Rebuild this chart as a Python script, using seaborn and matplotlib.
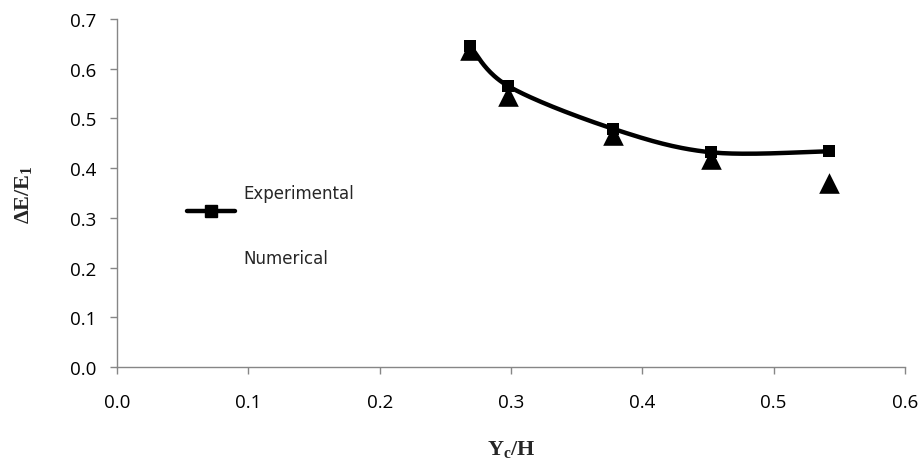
import numpy as np
import pandas as pd
import matplotlib
matplotlib.use("Agg")
import matplotlib.pyplot as plt
import seaborn as sns
from matplotlib.lines import Line2D
from matplotlib.legend_handler import HandlerLine2D

# ---- data ----
yc_h = [0.269, 0.298, 0.378, 0.452, 0.542]
experimental = [0.645, 0.565, 0.479, 0.432, 0.434]
numerical = [0.638, 0.546, 0.466, 0.418, 0.370]
x_ticks = [0.0, 0.1, 0.2, 0.3, 0.4, 0.5, 0.6]
y_ticks = [0.0, 0.1, 0.2, 0.3, 0.4, 0.5, 0.6, 0.7]

sns.set_theme(style="white")
plt.rcParams["mathtext.fontset"] = "custom"
plt.rcParams["mathtext.rm"] = "Liberation Serif:bold"
plt.rcParams["mathtext.bf"] = "Liberation Serif:bold"
plt.rcParams["mathtext.it"] = "Liberation Serif:bold"

fig = plt.figure(figsize=(9.21, 4.77), dpi=100)
ax = fig.add_axes([0.127, 0.2285, 0.8556, 0.7295])
ax.set_xlim(0, 0.6)
ax.set_ylim(0, 0.7)

# Excel-style smoothed line (Bezier through the points, computed in pixel-like space)
sx, sy = 1313.0, 495.0
P = np.column_stack([np.array(yc_h) * sx, np.array(experimental) * sy])
curve = []
n = len(P)
t = np.linspace(0, 1, 40)
for i in range(n - 1):
    p0 = P[i - 1] if i > 0 else P[i]
    p1, p2 = P[i], P[i + 1]
    p3 = P[i + 2] if i + 2 < n else P[i + 1]
    c1 = p1 + (p2 - p0) / 6.0
    c2 = p2 - (p3 - p1) / 6.0
    seg = ((1 - t)[:, None] ** 3 * p1 + 3 * ((1 - t) ** 2 * t)[:, None] * c1
           + 3 * ((1 - t) * t ** 2)[:, None] * c2 + (t ** 3)[:, None] * p2)
    curve.append(seg if i == 0 else seg[1:])
curve = np.vstack(curve)
smooth = pd.DataFrame({"x": curve[:, 0] / sx, "y": curve[:, 1] / sy})
sns.lineplot(data=smooth, x="x", y="y", ax=ax, color="black", linewidth=3.2,
             sort=False, estimator=None, zorder=2)

df = pd.DataFrame({"x": yc_h, "exp": experimental, "num": numerical})
sns.scatterplot(data=df, x="x", y="num", ax=ax, marker="^", s=220, color="black",
                edgecolor="black", linewidth=0, zorder=3)
sns.scatterplot(data=df, x="x", y="exp", ax=ax, marker="s", s=75, color="black",
                edgecolor="black", linewidth=0, zorder=4)

ax.set_xticks(x_ticks)
ax.set_yticks(y_ticks)
ax.set_xticklabels([f"{v:.1f}" for v in x_ticks])
ax.set_yticklabels([f"{v:.1f}" for v in y_ticks])
for lab in ax.get_xticklabels() + ax.get_yticklabels():
    lab.set_fontfamily(["Open Sans", "DejaVu Sans"])
    lab.set_fontsize(13.5)
    lab.set_color("black")

for s in ["top", "right"]:
    ax.spines[s].set_visible(False)
for s in ["left", "bottom"]:
    ax.spines[s].set_color("#868686")
    ax.spines[s].set_linewidth(1.0)
ax.tick_params(axis="both", which="major", direction="out", length=5, width=1,
               color="#868686", left=True, bottom=True)
ax.tick_params(axis="x", pad=14)
ax.tick_params(axis="y", pad=10)

ax.set_xlabel(r"Y$_\mathregular{c}$/H", fontfamily="Liberation Serif",
              fontweight="bold", fontsize=16, labelpad=19)
ax.set_ylabel(r"$\Delta$E/E$_\mathregular{1}$", fontfamily="Liberation Serif",
              fontweight="bold", fontsize=16, labelpad=26)


class ShiftedHandler(HandlerLine2D):
    def __init__(self, shift=0.0, **kw):
        super().__init__(**kw)
        self.shift = shift

    def create_artists(self, legend, orig_handle, xdescent, ydescent, width,
                       height, fontsize, trans):
        return super().create_artists(legend, orig_handle, xdescent,
                                      ydescent + 2 * self.shift, width, height,
                                      fontsize, trans)


h_exp = Line2D([], [], color="black", linewidth=3.2, marker="s", markersize=8.5)
h_num = Line2D([], [], color="none", linewidth=0, marker="")
leg = ax.legend([h_exp, h_num], ["Experimental", "Numerical"],
                loc="upper left", bbox_to_anchor=(0.07, 0.569), frameon=False,
                handlelength=2.9, handletextpad=0.5, labelspacing=2.8,
                handler_map={h_exp: ShiftedHandler(shift=13.5)},
                prop={"family": ["Liberation Sans Narrow", "DejaVu Sans"], "size": 12})

fig.savefig("out.png", dpi=100)
